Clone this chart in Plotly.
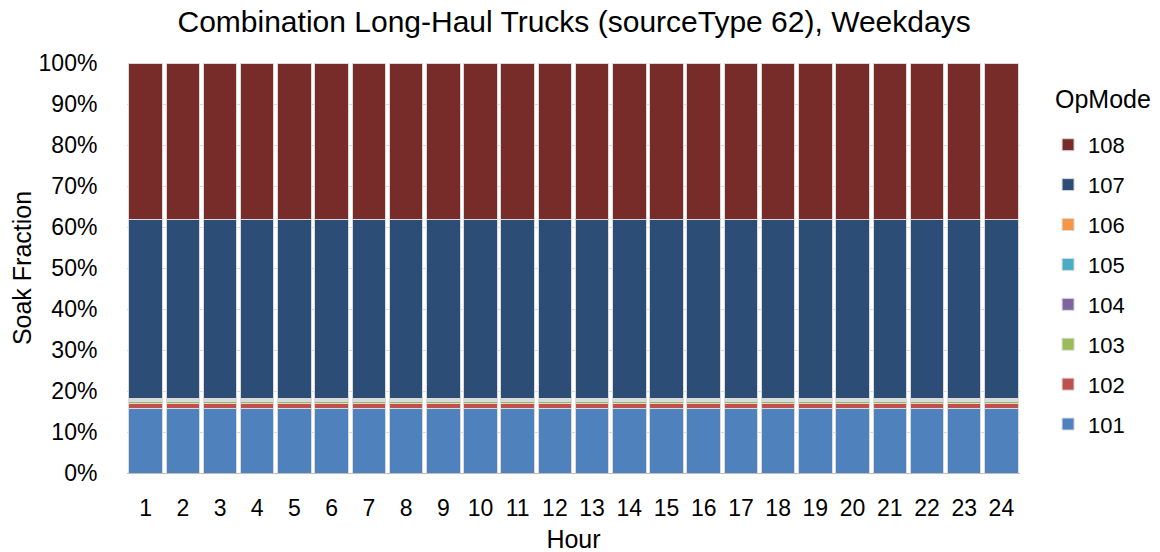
import plotly.graph_objects as go

hours = [str(h) for h in range(1, 25)]
opmodes = ["101", "102", "103", "104", "105", "106", "107", "108"]
fractions = [0.158, 0.012, 0.004, 0.0025, 0.002, 0.004, 0.4365, 0.381]
colors = ["#4F81BD", "#C0504D", "#9BBB59", "#8064A2", "#4BACC6", "#F79646", "#2C4D75", "#772C2A"]

fig = go.Figure()
for i, (name, frac, col) in enumerate(zip(opmodes, fractions, colors)):
    fig.add_trace(go.Bar(
        x=hours, y=[frac] * len(hours), name=name,
        marker=dict(color=col, line=dict(color="#DADADA", width=1)),
        legendgroup=name, legendrank=100 - i,
    ))

fig.add_annotation(text="OpMode", xref="paper", yref="paper",
                   x=1.037, xanchor="left", y=0.912, yanchor="middle",
                   showarrow=False, font=dict(size=25))

fig.update_layout(
    barmode="stack",
    bargap=0.1,
    width=1160, height=552,
    paper_bgcolor="white", plot_bgcolor="white",
    font=dict(family="Liberation Sans, Arial, sans-serif", size=22, color="#000000"),
    title=dict(text="Combination Long-Haul Trucks (sourceType 62), Weekdays",
               x=0.488, xanchor="center", y=0.975, yanchor="middle",
               font=dict(size=30)),
    margin=dict(l=119, r=148, t=55, b=87),
    legend=dict(traceorder="grouped",
                xref="container", yref="container",
                x=0.8966, xanchor="left", y=0.79, yanchor="top",
                tracegroupgap=8.3, font=dict(size=22), maxheight=600),
    xaxis=dict(title=dict(text="Hour", standoff=10, font=dict(size=25)),
               automargin=False,
               showline=True, linecolor="#BFBFBF",
               ticks="outside", ticklen=14, tickcolor="rgba(0,0,0,0)",
               tickfont=dict(size=23)),
    yaxis=dict(title=dict(text="Soak Fraction", standoff=14, font=dict(size=25)),
               automargin=False,
               range=[0, 1], tickformat=".0%",
               dtick=0.1, showgrid=True, gridcolor="#D9D9D9", zeroline=False,
               ticks="outside", ticklen=24, tickcolor="rgba(0,0,0,0)",
               showline=False, tickfont=dict(size=23)),
)
fig.write_html("out.html")
